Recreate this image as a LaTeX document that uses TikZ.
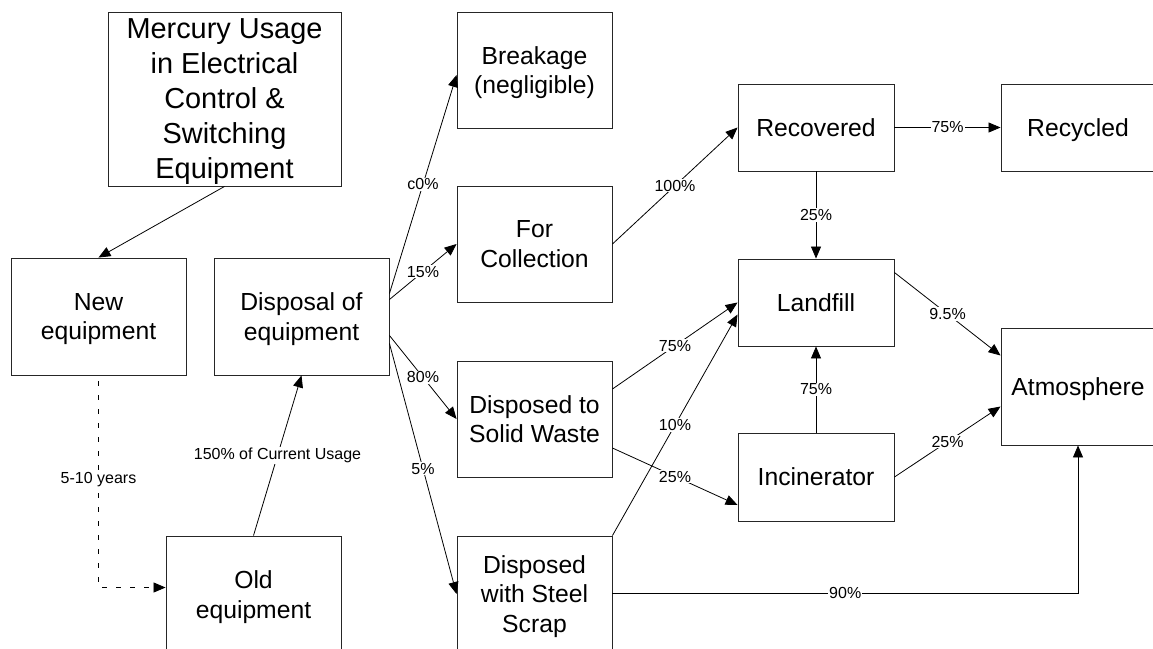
\documentclass[tikz,border=0pt]{standalone}
\usepackage{fontspec}
\setmainfont{Liberation Sans}
\usetikzlibrary{arrows.meta,calc}
\begin{document}
\begin{tikzpicture}[x=1pt,y=-1pt,
  box/.style={draw=black!85,line width=0.9pt,inner sep=0pt,align=center,text depth=0pt,
    font=\fontsize{24.7pt}{29.6pt}\selectfont},
  bigbox/.style={box,font=\fontsize{28.9pt}{35pt}\selectfont},
  flow/.style={draw=black,line width=0.8pt,-{Triangle[length=12pt,width=10pt]}},
  lbl/.style={fill=white,inner sep=1pt,font=\fontsize{16pt}{19pt}\selectfont}]
\useasboundingbox[fill=white] (0,0) rectangle (1153,648);
% nodes
\node[bigbox,minimum width=233pt,minimum height=174pt] (merc) at (224.5,99) {Mercury Usage\\in Electrical\\Control \&\\Switching\\Equipment};
\node[box,minimum width=175pt,minimum height=117pt] (new) at (98.5,316.5) {New\\equipment};
\node[box,minimum width=175pt,minimum height=117pt] (disp) at (301.5,316.5) {Disposal of\\equipment};
\node[box,minimum width=175pt,minimum height=117pt] (old) at (253.5,594.5) {Old\\equipment};
\node[box,minimum width=155pt,minimum height=116pt] (brk) at (534.5,70) {Breakage\\(negligible)};
\node[box,minimum width=155pt,minimum height=116pt] (coll) at (534.5,244) {For\\Collection};
\node[box,minimum width=155pt,minimum height=116pt] (solid) at (534.5,419) {Disposed to\\Solid Waste};
\node[box,minimum width=155pt,minimum height=116pt] (steel) at (534.5,594) {Disposed\\with Steel\\Scrap};
\node[box,minimum width=156pt,minimum height=87pt] (rec) at (816,127.5) {Recovered};
\node[box,minimum width=154pt,minimum height=87pt] (recy) at (1078,127.5) {Recycled};
\node[box,minimum width=156pt,minimum height=87pt] (land) at (816,302.5) {Landfill};
\node[box,minimum width=156pt,minimum height=88pt] (incin) at (816,477) {Incinerator};
\node[box,minimum width=154pt,minimum height=117pt] (atm) at (1078,386.5) {Atmosphere};
% connectors
\draw[flow] (merc.south) -- (new.north);
\draw[flow,dash pattern=on 5pt off 9pt,dash phase=-6pt] (new.south) |- node[lbl,pos=0.245,solid] {5-10 years} ([yshift=7pt]old.west);
\draw[flow] (old.north) -- node[lbl] {150\% of Current Usage} (disp.south);
\draw[flow] ([yshift=23pt]disp.east) -- node[lbl] {c0\%} ([yshift=-5pt]brk.west);
\draw[flow] ([yshift=17pt]disp.east) -- node[lbl] {15\%} (coll.west);
\draw[flow] ([yshift=-19pt]disp.east) -- node[lbl] {80\%} (solid.west);
\draw[flow] ([yshift=-27pt]disp.east) -- node[lbl] {5\%} (steel.west);
\draw[flow] (coll.east) -- node[lbl] {100\%} (rec.west);
\draw[flow] (rec.east) -- node[lbl] {75\%} (recy.west);
\draw[flow] (rec.south) -- node[lbl] {25\%} (land.north);
\draw[flow] ([yshift=30pt]solid.east) -- node[lbl] {75\%} (land.west);
\draw[flow] (steel.north east) -- node[lbl] {10\%} ([yshift=-12pt]land.west);
\draw[flow] ([yshift=-29pt]solid.east) -- node[lbl] {25\%} ([yshift=-28pt]incin.west);
\draw[flow] (incin.north) -- node[lbl] {75\%} (land.south);
\draw[flow] ([yshift=30pt]land.east) -- node[lbl] {9.5\%} ([yshift=31pt]atm.west);
\draw[flow] (incin.east) -- node[lbl] {25\%} ([yshift=-20pt]atm.west);
\draw[flow] ([yshift=1pt]steel.east) -| node[lbl,pos=0.25] {90\%} (atm.south);
\end{tikzpicture}
\end{document}
